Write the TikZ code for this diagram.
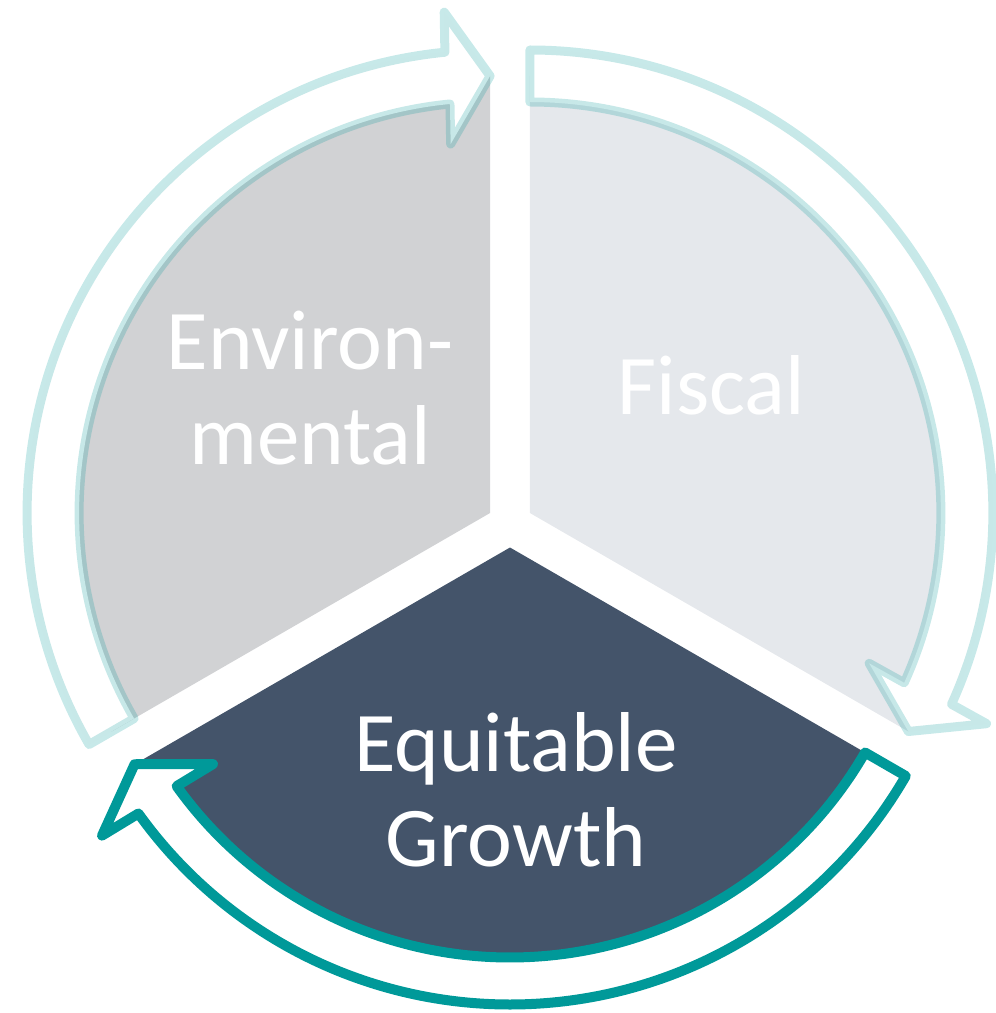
\documentclass[tikz,border=0pt]{standalone}
\usepackage{fontspec}
\setmainfont{Carlito}
\newlength{\du}
\setlength{\du}{0.5pt}

% ring arrow: name, style, tail angle, tip angle, inner radius, outer radius
\newcommand{\ringarrow}[6]{%
\pgfmathsetmacro{\rmid}{(#5+#6)/2}%
\pgfmathsetmacro{\hb}{#4+5.6}%
\pgfmathsetmacro{\hn}{#4+2.8}%
\coordinate (#1tip) at (#4:\rmid\du);
\coordinate (#1out) at ([shift={(\hb:\rmid\du)}]\hn:66\du);
\coordinate (#1in) at ([shift={(\hb:\rmid\du)}]\hn+180:66\du);
\draw[#2] (#3:#6\du) arc[start angle=#3, end angle=\hb, radius=#6\du]--(#1out)--(#1tip)--(#1in)--(\hb:#5\du) arc[start angle=\hb, end angle=#3, radius=#5\du]--cycle;
}

\begin{document}
\begin{tikzpicture}[
  ringarrow/.style={fill=white, line join=round},
  lightring/.style={ringarrow, line width=9\du, draw=ringteal, draw opacity=0.22},
  darkring/.style={ringarrow, line width=10\du, draw=ringteal},
  segtext/.style={text=white, align=center, font=\fontsize{42.5}{47.5}\selectfont}
]
\definecolor{envcolor}{rgb}{0.819608, 0.823529, 0.831373}
\definecolor{fiscalcolor}{rgb}{0.898039, 0.909804, 0.925490}
\definecolor{equitycolor}{rgb}{0.266667, 0.329412, 0.415686}
\definecolor{ringteal}{rgb}{0.000000, 0.600000, 0.600000}
\useasboundingbox (-510\du,-488.5\du) rectangle (486\du,524.5\du);
% sectors
\begin{scope}[shift={(150:23\du)}]
\fill[envcolor] (0,0)--(210:437\du) arc[start angle=210, end angle=90, radius=437\du]--cycle;
\end{scope}
\begin{scope}[shift={(30:23\du)}]
\fill[fiscalcolor] (0,0)--(90:437\du) arc[start angle=90, end angle=-30, radius=437\du]--cycle;
\end{scope}
\begin{scope}[shift={(270:23\du)}]
\fill[equitycolor] (0,0)--(-30:434\du) arc[start angle=-30, end angle=-150, radius=434\du]--cycle;
\end{scope}
% arrows
\begin{scope}[shift={(150:23\du)}]
\ringarrow{env}{lightring}{210}{90}{411}{463}
\end{scope}
\begin{scope}[shift={(30:23\du)}]
\ringarrow{fiscal}{lightring}{90}{-30}{411}{463}
\end{scope}
\begin{scope}[shift={(270:23\du)}]
\ringarrow{equity}{darkring}{-30}{-150}{410}{457}
\end{scope}
% setfont left to latex
\node[segtext] (envtext) at (-200\du,136.5\du) {Environ-\\mental};
\node[segtext] (fiscaltext) at (201.5\du,139\du) {Fiscal};
\node[segtext] (equitytext) at (6\du,-265.5\du) {Equitable\\Growth};
\end{tikzpicture}
\end{document}
